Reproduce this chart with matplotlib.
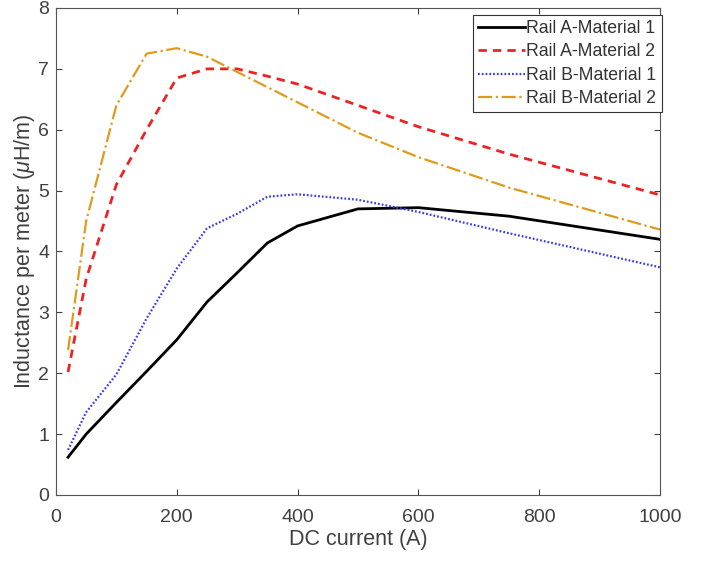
import numpy as np
import matplotlib
matplotlib.use("Agg")
import matplotlib.pyplot as plt

plt.rcParams['font.family'] = ['Liberation Sans', 'DejaVu Sans']
plt.rcParams['mathtext.fontset'] = 'custom'
plt.rcParams['mathtext.it'] = 'Liberation Sans:italic'
plt.rcParams['mathtext.rm'] = 'Liberation Sans'

# DC current (A)
current = [20, 50, 100, 150, 200, 250, 300, 350, 400, 500, 600, 750, 1000]

# inductance per meter (uH/m)
rail_a_mat1 = [0.62, 1.0, 1.52, 2.03, 2.55, 3.17, 3.65, 4.14, 4.42, 4.70, 4.72, 4.58, 4.20]
rail_a_mat2 = [2.02, 3.55, 5.10, 6.00, 6.85, 7.00, 7.00, 6.88, 6.75, 6.40, 6.05, 5.60, 4.93]
rail_b_mat1 = [0.74, 1.36, 1.98, 2.90, 3.72, 4.38, 4.62, 4.90, 4.94, 4.85, 4.65, 4.30, 3.74]
rail_b_mat2 = [2.38, 4.50, 6.40, 7.25, 7.34, 7.20, 6.95, 6.70, 6.45, 5.95, 5.55, 5.05, 4.36]

labels = ["Rail A-Material 1", "Rail A-Material 2", "Rail B-Material 1", "Rail B-Material 2"]

fig = plt.figure(figsize=(7.05, 5.63), dpi=100)
ax = fig.add_axes([0.0794, 0.1208, 0.8567, 0.865])

ax.plot(current, rail_a_mat1, color='black', lw=2.0, ls='-', label=labels[0])
ax.plot(current, rail_a_mat2, color='#ee2222', lw=2.0, ls=(0, (3, 2.2)), label=labels[1])
ax.plot(current, rail_b_mat1, color='#3a3aee', lw=1.6, ls=(0, (0.8, 0.9)), label=labels[2])
ax.plot(current, rail_b_mat2, color='#e09a1c', lw=1.6, ls='-.', label=labels[3])

ax.set_xlim(0, 1000)
ax.set_ylim(0, 8)
ax.set_xticks(np.arange(0, 1001, 200))
ax.set_yticks(np.arange(0, 9, 1))

grey = '#404040'
for s in ax.spines.values():
    s.set_color('#555555')
    s.set_linewidth(0.8)
ax.tick_params(direction='in', length=4, colors=grey, labelsize=14,
               top=True, right=True, labeltop=False, labelright=False)
ax.tick_params(axis='x', pad=10)
ax.tick_params(axis='y', pad=5)

ax.set_xlabel("DC current (A)", fontsize=15.5, color=grey, labelpad=2)
ax.set_ylabel(r"Inductance per meter ($\mu$H/m)", fontsize=15.5, color=grey, labelpad=1)

leg = ax.legend(loc='upper right', bbox_to_anchor=(1.003, 0.986), fontsize=12.7,
                handlelength=2.7, handletextpad=0.05, borderpad=0.3,
                labelspacing=0.36, borderaxespad=0.0,
                fancybox=False, framealpha=1)
leg.get_frame().set_edgecolor('#333333')
leg.get_frame().set_linewidth(0.8)
for t in leg.get_texts():
    t.set_color('#333333')

fig.savefig("out.png", dpi=100)
